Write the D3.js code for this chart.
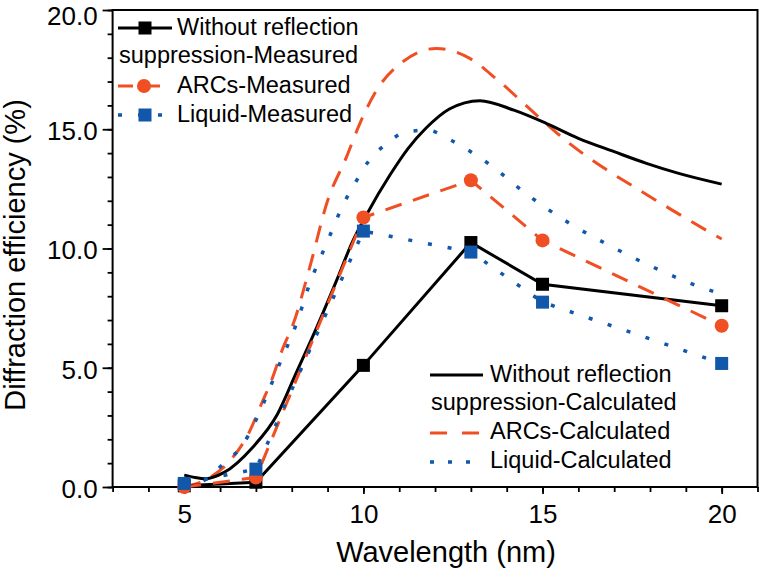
<!DOCTYPE html>
<html><head><meta charset="utf-8">
<script src="https://cdn.jsdelivr.net/npm/d3@7"></script>
<style>
body{margin:0;background:#fff;}
svg{display:block;font-family:"Liberation Sans",Arial,sans-serif;}
</style></head>
<body><svg id="c" width="761" height="572"></svg>
<script>
// ---- data ----
const measuredX = [5, 7, 10, 13, 15, 20];
const withoutMeasured = [0.05, 0.2, 5.1, 10.25, 8.5, 7.6];
const arcsMeasured = [0.0, 0.4, 11.3, 12.86, 10.34, 6.76];
const liquidMeasured = [0.15, 0.75, 10.73, 9.85, 7.75, 5.18];

const withoutCalcX = [5, 5.3, 5.6, 6.1, 6.9, 7.6, 8.1, 8.7, 9.25, 9.7, 10.1, 10.75, 11.25, 11.75, 12.4, 13.25, 14.2, 15.1, 16, 17, 17.9, 18.8, 20];
const withoutCalc = [0.5, 0.4, 0.35, 0.6, 1.65, 3.05, 4.7, 6.7, 8.65, 10.3, 11.45, 13.1, 14.2, 15.05, 15.85, 16.2, 15.8, 15.25, 14.62, 14.06, 13.57, 13.15, 12.7];

const arcsCalcX = [5, 5.43, 5.71, 6.27, 6.83, 7.15, 7.43, 7.76, 8.04, 8.5, 9.0, 9.53, 9.9, 10.37, 11.1, 12.04, 12.97, 13.72, 14.88, 15.84, 16.77, 17.7, 18.63, 19.61, 20];
const arcsCalc = [0.0, 0.18, 0.39, 1.09, 2.35, 3.47, 4.45, 5.85, 6.83, 9.2, 12.0, 13.84, 15.24, 16.64, 17.83, 18.39, 17.97, 17.1, 15.53, 14.3, 13.32, 12.45, 11.6, 10.73, 10.4];

const liquidCalcX = [5, 5.52, 6.08, 6.64, 7.2, 7.66, 8.13, 8.5, 8.97, 9.45, 9.76, 10.13, 10.65, 11.2, 11.8, 12.37, 12.93, 13.49, 14.6, 15.77, 16.9, 18.0, 19.77, 20];
const liquidCalc = [0.05, 0.25, 0.95, 1.79, 3.47, 5.16, 6.84, 8.52, 10.2, 11.88, 12.72, 13.63, 14.4, 14.89, 14.96, 14.6, 14.12, 13.56, 12.23, 11.04, 10.1, 9.28, 8.2, 8.1];

const xMajorTicks = [5, 10, 15, 20];
const yMajorTicks = [0, 5, 10, 15, 20];
const legendTop = ["Without reflection", "suppression-Measured", "ARCs-Measured", "Liquid-Measured"];
const legendBottom = ["Without reflection", "suppression-Calculated", "ARCs-Calculated", "Liquid-Calculated"];

// ---- layout ----
const ORANGE = "#F04E23", BLUE = "#1157AA", BLACK = "#000";
const L = 112.6, R = 757.5, T = 10, B = 487;
const svg = d3.select("#c");
const x = d3.scaleLinear().domain([3, 21]).range([L, R]);
const y = d3.scaleLinear().domain([0, 20]).range([B, T]);

// axes
const gx = svg.append("g").attr("transform", `translate(0,${B})`);
gx.call(d3.axisBottom(x).tickValues(d3.range(3, 22, 1)).tickSize(5).tickFormat("").tickSizeOuter(0));
const gx2 = svg.append("g").attr("transform", `translate(0,${B})`);
gx2.call(d3.axisBottom(x).tickValues(xMajorTicks).tickSize(7).tickPadding(10.5).tickSizeOuter(0));
const gy = svg.append("g").attr("transform", `translate(${L},0)`);
gy.call(d3.axisLeft(y).tickValues(d3.range(0, 21, 1)).tickSize(5).tickFormat("").tickSizeOuter(0));
const gy2 = svg.append("g").attr("transform", `translate(${L},0)`);
gy2.call(d3.axisLeft(y).tickValues(yMajorTicks).tickSize(10).tickPadding(5).tickFormat(d3.format(".1f")).tickSizeOuter(0));
gy2.selectAll(".tick text").attr("dy", d => d === 20 ? "14px" : "0.4em");
svg.selectAll(".tick line").attr("stroke", "#000").attr("stroke-width", 1.8);
svg.selectAll(".domain").attr("stroke", "none");
svg.selectAll(".tick text").attr("font-size", 26).attr("fill", "#000").attr("font-family", "Liberation Sans, Arial, sans-serif");

svg.append("rect").attr("x", L).attr("y", T).attr("width", R - L).attr("height", B - T)
  .attr("fill", "none").attr("stroke", "#000").attr("stroke-width", 2);

// titles
svg.append("text").attr("x", 446).attr("y", 562).attr("text-anchor", "middle")
  .attr("font-size", 29).text("Wavelength (nm)");
svg.append("text").attr("transform", "translate(25,255) rotate(-90)").attr("text-anchor", "middle")
  .attr("font-size", 29).text("Diffraction efficiency (%)");

const plot = svg.append("g");
const smooth = d3.line().x(d => x(d[0])).y(d => y(d[1])).curve(d3.curveMonotoneX);
const straight = d3.line().x(d => x(d[0])).y(d => y(d[1]));
const zip = (a, b) => a.map((v, i) => [v, b[i]]);

const DASH = "17,12", DOT = "4,16";
// calculated curves
plot.append("path").attr("d", smooth(zip(arcsCalcX, arcsCalc))).attr("fill", "none")
  .attr("stroke", ORANGE).attr("stroke-width", 3).attr("stroke-dasharray", DASH);
plot.append("path").attr("d", smooth(zip(liquidCalcX, liquidCalc))).attr("fill", "none")
  .attr("stroke", BLUE).attr("stroke-width", 3.5).attr("stroke-dasharray", DOT);
plot.append("path").attr("d", smooth(zip(withoutCalcX, withoutCalc))).attr("fill", "none")
  .attr("stroke", BLACK).attr("stroke-width", 3);

// measured
function measured(vals, color, dash, width, marker) {
  const pts = zip(measuredX, vals);
  plot.append("path").attr("d", straight(pts)).attr("fill", "none")
    .attr("stroke", color).attr("stroke-width", width).attr("stroke-dasharray", dash);
  pts.forEach(p => {
    if (marker === "square") {
      plot.append("rect").attr("x", x(p[0]) - 6.5).attr("y", y(p[1]) - 6.5)
        .attr("width", 13).attr("height", 13).attr("fill", color);
    } else {
      plot.append("circle").attr("cx", x(p[0])).attr("cy", y(p[1])).attr("r", 7).attr("fill", color);
    }
  });
}
measured(withoutMeasured, BLACK, null, 3, "square");
measured(arcsMeasured, ORANGE, DASH, 3, "circle");
measured(liquidMeasured, BLUE, DOT, 3.5, "square");

// legends
const lg = svg.append("g").attr("font-size", 23.5);
function legLine(x1, x2, yy, color, dash, width, marker) {
  lg.append("line").attr("x1", x1).attr("x2", x2).attr("y1", yy).attr("y2", yy)
    .attr("stroke", color).attr("stroke-width", width).attr("stroke-dasharray", dash);
  const cx = (x1 + x2) / 2;
  if (marker === "square") lg.append("rect").attr("x", cx - 6.5).attr("y", yy - 6.5).attr("width", 13).attr("height", 13).attr("fill", color);
  else if (marker === "circle") lg.append("circle").attr("cx", cx).attr("cy", yy).attr("r", 7).attr("fill", color);
}
legLine(118, 172, 28, BLACK, null, 3, "square");
legLine(118, 170, 86, ORANGE, "15,12", 3, "circle");
legLine(118, 172, 115, BLUE, "4,16", 3.5, "square");
lg.append("text").attr("x", 177).attr("y", 35).text(legendTop[0]);
lg.append("text").attr("x", 119).attr("y", 63).text(legendTop[1]);
lg.append("text").attr("x", 177).attr("y", 93).text(legendTop[2]);
lg.append("text").attr("x", 177).attr("y", 122).text(legendTop[3]);

legLine(430, 483, 375, BLACK, null, 3, null);
legLine(430, 481, 433, ORANGE, "17,15", 3, null);
legLine(430, 472, 462, BLUE, "4,14", 3.5, null);
lg.append("text").attr("x", 490).attr("y", 382).text(legendBottom[0]);
lg.append("text").attr("x", 431).attr("y", 410).text(legendBottom[1]);
lg.append("text").attr("x", 490).attr("y", 439).text(legendBottom[2]);
lg.append("text").attr("x", 490).attr("y", 468).text(legendBottom[3]);
</script></body></html>
